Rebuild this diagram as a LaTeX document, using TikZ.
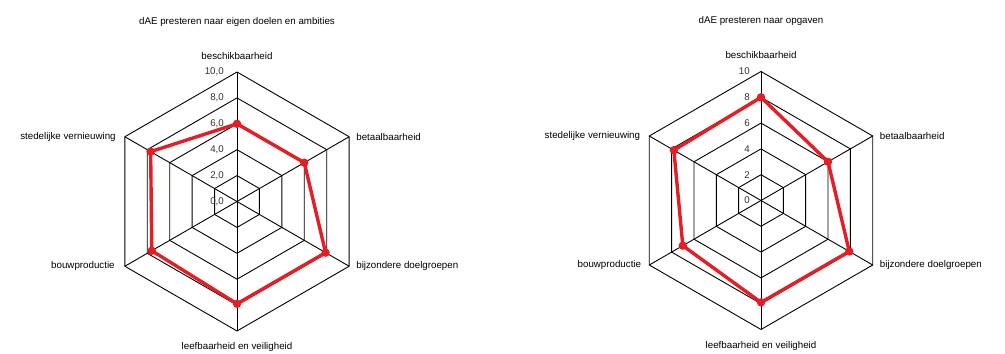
\documentclass[tikz,border=0pt]{standalone}
\usepackage{fontspec}
\setmainfont{Liberation Sans}
\definecolor{chartred}{RGB}{229,30,37}
\tikzset{
  gridline/.style={draw=black,line width=0.9bp},
  dataline/.style={draw=chartred,line width=3.4bp,line join=round},
  datadot/.style={fill=chartred},
  axislabel/.style={inner sep=0pt,font=\fontsize{9.75bp}{11bp}\selectfont},
  ticklabel/.style={inner sep=0pt,anchor=east,text=black!80,font=\fontsize{9.75bp}{11bp}\selectfont},
}
\begin{document}
\begin{tikzpicture}[x=1bp,y=1bp,line join=bevel]
  \useasboundingbox (0bp,0bp) rectangle (1005bp,354bp);
%%
  % Chart: eigen doelen en ambities
\begin{scope}[shift={(237bp,152.5bp)},x=12.95bp,y=12.95bp]
  \node[axislabel] (ltitle) at (0bp,179.5bp) {dAE presteren naar eigen doelen en ambities};
  % Grid
  \foreach \r in {2,4,6,8,10}
    \draw[gridline] (90:\r) -- (30:\r) -- (-30:\r) -- (-90:\r) -- (-150:\r) -- (150:\r) -- cycle;
  \foreach \a in {90,30,-30,-90,-150,150}
    \draw[gridline] (0,0) -- (\a:10);
  % Ticks
  \node[ticklabel] (ltick0) at ([xshift=-13bp]90:0) {0,0};
  \node[ticklabel] (ltick2) at ([xshift=-13bp]90:2) {2,0};
  \node[ticklabel] (ltick4) at ([xshift=-13bp]90:4) {4,0};
  \node[ticklabel] (ltick6) at ([xshift=-13bp]90:6) {6,0};
  \node[ticklabel] (ltick8) at ([xshift=-13bp]90:8) {8,0};
  \node[ticklabel] (ltick10) at ([xshift=-13bp]90:10) {10,0};
  % Axes
  \node[axislabel] (lbeschtxt) at ([yshift=16bp]90:10) {beschikbaarheid};
  \node[axislabel,anchor=west] (lbetaaltxt) at ([xshift=7bp]30:10) {betaalbaarheid};
  \node[axislabel,anchor=west] (lbijztxt) at ([xshift=7bp]-30:10) {bijzondere doelgroepen};
  \node[axislabel] (lleeftxt) at ([yshift=-16bp]-90:10) {leefbaarheid en veiligheid};
  \node[axislabel,anchor=east] (lbouwtxt) at ([xshift=-10bp]-150:10) {bouwproductie};
  \node[axislabel,anchor=east] (lstedtxt) at ([xshift=-9bp]150:10) {stedelijke vernieuwing};
  % Data
  \coordinate (lbesch) at (90:6.0);
  \coordinate (lbetaal) at (30:6.0);
  \coordinate (lbijz) at (-30:7.9);
  \coordinate (lleef) at (-90:7.9);
  \coordinate (lbouw) at (-150:7.6);
  \coordinate (lsted) at (150:7.7);
  \draw[dataline] (lbesch) -- (lbetaal) -- (lbijz) -- (lleef) -- (lbouw) -- (lsted) -- cycle;
  \foreach \p in {lbesch,lbetaal,lbijz,lleef,lbouw,lsted}
    \fill[datadot] (\p) circle (4.2bp);
\end{scope}
  % Chart: opgaven
\begin{scope}[shift={(761bp,153.5bp)},x=12.9bp,y=12.9bp]
  \node[axislabel] (rtitle) at (0bp,179.5bp) {dAE presteren naar opgaven};
  % Grid
  \foreach \r in {2,4,6,8,10}
    \draw[gridline] (90:\r) -- (30:\r) -- (-30:\r) -- (-90:\r) -- (-150:\r) -- (150:\r) -- cycle;
  \foreach \a in {90,30,-30,-90,-150,150}
    \draw[gridline] (0,0) -- (\a:10);
  % Ticks
  \node[ticklabel] (rtick0) at ([xshift=-11bp]90:0) {0};
  \node[ticklabel] (rtick2) at ([xshift=-11bp]90:2) {2};
  \node[ticklabel] (rtick4) at ([xshift=-11bp]90:4) {4};
  \node[ticklabel] (rtick6) at ([xshift=-11bp]90:6) {6};
  \node[ticklabel] (rtick8) at ([xshift=-11bp]90:8) {8};
  \node[ticklabel] (rtick10) at ([xshift=-11bp]90:10) {10};
  % Axes
  \node[axislabel] (rbeschtxt) at ([yshift=16bp]90:10) {beschikbaarheid};
  \node[axislabel,anchor=west] (rbetaaltxt) at ([xshift=7bp]30:10) {betaalbaarheid};
  \node[axislabel,anchor=west] (rbijztxt) at ([xshift=7bp]-30:10) {bijzondere doelgroepen};
  \node[axislabel] (rleeftxt) at ([yshift=-16bp]-90:10) {leefbaarheid en veiligheid};
  \node[axislabel,anchor=east] (rbouwtxt) at ([xshift=-8bp]-150:10) {bouwproductie};
  \node[axislabel,anchor=east] (rstedtxt) at ([xshift=-9bp]150:10) {stedelijke vernieuwing};
  % Data
  \coordinate (rbesch) at (90:8.0);
  \coordinate (rbetaal) at (30:6.0);
  \coordinate (rbijz) at (-30:7.9);
  \coordinate (rleef) at (-90:7.9);
  \coordinate (rbouw) at (-150:7.0);
  \coordinate (rsted) at (150:7.8);
  \draw[dataline] (rbesch) -- (rbetaal) -- (rbijz) -- (rleef) -- (rbouw) -- (rsted) -- cycle;
  \foreach \p in {rbesch,rbetaal,rbijz,rleef,rbouw,rsted}
    \fill[datadot] (\p) circle (4.2bp);
\end{scope}
%
\end{tikzpicture}
\end{document}
